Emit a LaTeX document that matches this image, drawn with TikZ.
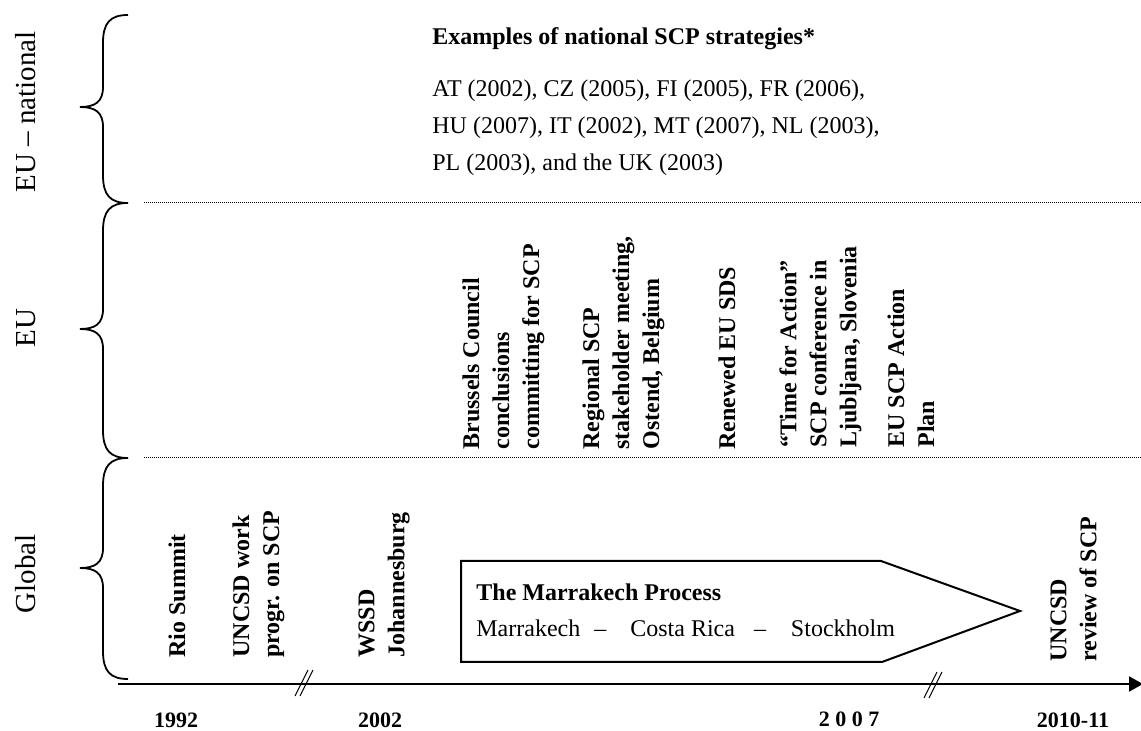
\documentclass[tikz,border=0pt]{standalone}
\usepackage{fontspec}
\setmainfont{Liberation Serif}
\usetikzlibrary{arrows.meta}

\tikzset{
    event/.style={rotate=90, anchor=north west, inner sep=0pt, align=left,
        font=\bfseries\fontsize{12}{15}\selectfont},
    level/.style={rotate=90, anchor=base, inner sep=0pt, font=\fontsize{14.5}{17}\selectfont},
    year/.style={anchor=base, inner sep=0pt, font=\bfseries\fontsize{11}{13}\selectfont},
    brace line/.style={line width=0.9pt},
    sep line/.style={line width=0.5pt, dash pattern=on 0.5pt off 0.5pt},
    axis line/.style={line width=1pt, -{Triangle[length=7pt, width=7.5pt]}},
    break mark/.style={line width=0.5pt}
}

\begin{document}
\begin{tikzpicture}[x=0.5pt, y=-0.5pt]
    \useasboundingbox (0,0) rectangle (1141,731);

    % levels and braces
    \node[level] (lvl national) at (35,112) {EU -- national};
    \node[level] (lvl eu) at (35,328) {EU};
    \node[level] (lvl global) at (35,574) {Global};
    \foreach \t/\m/\b in {15/107/203, 203/329/458, 458/568/679} {
        \draw[brace line] (128,\t) .. controls (110,\t) and (103,\t+8) .. (103,\t+28)
            -- (103,\m-20) .. controls (103,\m-5) and (95,\m) .. (80,\m)
            .. controls (95,\m) and (103,\m+5) .. (103,\m+20)
            -- (103,\b-28) .. controls (103,\b-8) and (110,\b) .. (128,\b);
    }
    \draw[sep line] (144,203) -- (1141,203);
    \draw[sep line] (144,458) -- (1141,458);

    % national strategies
    \node[anchor=base west, inner sep=0pt, font=\bfseries\fontsize{12}{15}\selectfont]
        (national title) at (432,45) {Examples of national SCP strategies*};
    \node[anchor=north west, inner sep=0pt, align=left, font=\fontsize{12}{18.5}\selectfont]
        (national list) at (432,79) {AT (2002), CZ (2005), FI (2005), FR (2006),\\
        HU (2007), IT (2002), MT (2007), NL (2003),\\
        PL (2003), and the UK (2003)};

    % EU events
    \node[event] (brussels) at (462,450) {Brussels Council\\conclusions\\committing for SCP};
    \node[event] (ostend) at (582,450) {Regional SCP\\stakeholder meeting,\\Ostend, Belgium};
    \node[event] (sds) at (718,450) {Renewed EU SDS};
    \node[event] (ljubljana) at (779,448) {“Time for Action”\\SCP conference in\\Ljubljana, Slovenia};
    \node[event] (scp plan) at (887,448) {EU SCP Action\\Plan};

    % global events
    \node[event] (rio) at (168,658) {Rio Summit};
    \node[event] (uncsd work) at (232,658) {UNCSD work\\progr. on SCP};
    \node[event] (wssd) at (358,658) {WSSD\\Johannesburg};
    \node[event] (uncsd review) at (1050,662) {UNCSD\\review of SCP};

    % Marrakech process
    \draw[line width=1pt] (461,561) -- (881,561) -- (1020,611) -- (882,662) -- (461,662) -- cycle;
    \node[anchor=base west, inner sep=0pt, font=\bfseries\fontsize{12}{15}\selectfont]
        (process title) at (476,601) {The Marrakech Process};
    \node[anchor=base west, inner sep=0pt, font=\fontsize{12}{15}\selectfont]
        (process stops) at (476,637) {Marrakech\hspace{7pt}--\hspace{12pt}Costa Rica\hspace{9.5pt}--\hspace{12.5pt}Stockholm};

    % time axis
    \coordinate (axis start) at (118,684);
    \coordinate (axis end) at (1143,684);
    \draw[axis line] (axis start) -- (axis end);
    \coordinate (break one) at (305,683);
    \coordinate (break two) at (934,685);
    \foreach \c in {break one, break two} {
        \draw[break mark] ([shift={(-10,13)}]\c) -- ([shift={(3,-13)}]\c);
        \draw[break mark] ([shift={(-5,13)}]\c) -- ([shift={(8,-13)}]\c);
    }
    \node[year] (y1992) at (176,727) {1992};
    \node[year] (y2002) at (380,727) {2002};
    \node[year] (y2007) at (849,726) {2 0 0 7};
    \node[year] (y2010) at (1073,727) {2010-11};
\end{tikzpicture}
\end{document}
